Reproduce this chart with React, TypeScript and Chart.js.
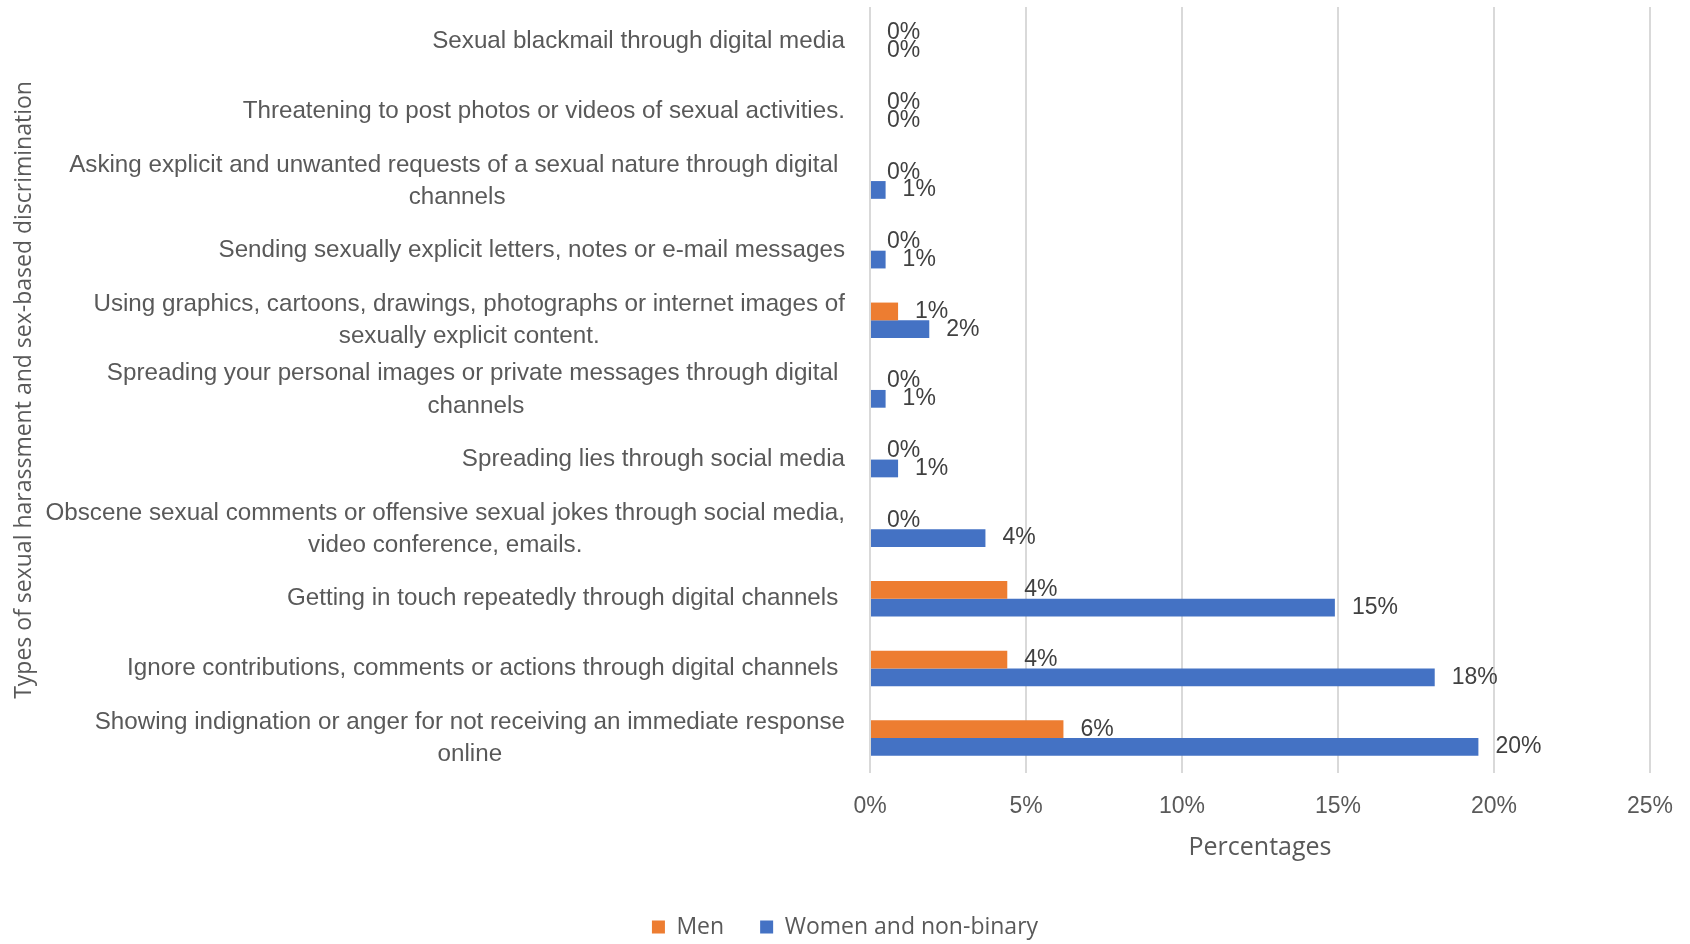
import React, { useEffect, useRef } from "react";
import { Chart, registerables } from "chart.js";

Chart.register(...registerables);

// ---- Data ----
const categories: string[][] = [
  ["Sexual blackmail through digital media"],
  ["Threatening to post photos or videos of sexual activities."],
  ["Asking explicit and unwanted requests of a sexual nature through digital ", "channels"],
  ["Sending sexually explicit letters, notes or e-mail messages"],
  ["Using graphics, cartoons, drawings, photographs or internet images of", "sexually explicit content."],
  ["Spreading your personal images or private messages through digital ", "channels"],
  ["Spreading lies through social media"],
  ["Obscene sexual comments or offensive sexual jokes through social media,", "video conference, emails."],
  ["Getting in touch repeatedly through digital channels "],
  ["Ignore contributions, comments or actions through digital channels "],
  ["Showing indignation or anger for not receiving an immediate response", "online"],
];

const seriesNames = ["Men", "Women and non-binary"];
const menValues = [0, 0, 0, 0, 0.9, 0, 0, 0, 4.4, 4.4, 6.2];
const womenValues = [0, 0, 0.5, 0.5, 1.9, 0.5, 0.9, 3.7, 14.9, 18.1, 19.5];

const xMin = 0;
const xMax = 25;
const xStep = 5;

const yAxisTitle = "Types of sexual harassment and sex-based discrimination";
const xAxisTitle = "Percentages";

const MEN_COLOR = "#ED7D31";
const WOMEN_COLOR = "#4472C4";
const TEXT_COLOR = "#595959";
const LABEL_COLOR = "#404040";
const GRID_COLOR = "#D9D9D9";
const SANS = '"Liberation Sans", Arial, sans-serif';
const OPEN = '"Open Sans", "Liberation Sans", sans-serif';

const categoryLabelPlugin = {
  id: "categoryLabels",
  afterDraw(chart: any) {
    const ctx = chart.ctx;
    const yScale = chart.scales.y;
    const area = chart.chartArea;
    ctx.save();
    ctx.font = `24.2px ${SANS}`;
    ctx.fillStyle = TEXT_COLOR;
    ctx.textBaseline = "middle";
    ctx.textAlign = "center";
    const right = area.left - 25;
    const lh = 32.3;
    categories.forEach((lines, i) => {
      const cy = yScale.getPixelForValue(i);
      const w = Math.max(...lines.map((l) => ctx.measureText(l).width));
      const cx = right - w / 2;
      lines.forEach((l, j) => {
        ctx.fillText(l, cx, cy + (j - (lines.length - 1) / 2) * lh);
      });
    });
    // rotated y-axis title
    ctx.font = `23px ${OPEN}`;
    ctx.translate(24, (area.top + area.bottom) / 2);
    ctx.rotate(-Math.PI / 2);
    ctx.textAlign = "center";
    ctx.fillText(yAxisTitle, 0, 0);
    ctx.restore();
  },
};

const dataLabelPlugin = {
  id: "dataLabels",
  afterDatasetsDraw(chart: any) {
    const ctx = chart.ctx;
    ctx.save();
    ctx.font = `23px ${SANS}`;
    ctx.fillStyle = LABEL_COLOR;
    ctx.textBaseline = "middle";
    ctx.textAlign = "left";
    chart.data.datasets.forEach((ds: any, di: number) => {
      const meta = chart.getDatasetMeta(di);
      meta.data.forEach((bar: any, i: number) => {
        const v = ds.data[i];
        ctx.fillText(`${Math.round(v)}%`, bar.x + 17, bar.y);
      });
    });
    ctx.restore();
  },
};

export default function App() {
  const canvasRef = useRef<HTMLCanvasElement | null>(null);

  useEffect(() => {
    if (!canvasRef.current) return;
    const chart = new Chart(canvasRef.current, {
      type: "bar",
      data: {
        labels: categories,
        datasets: [
          {
            label: seriesNames[0],
            data: menValues,
            backgroundColor: MEN_COLOR,
            barPercentage: 1,
            categoryPercentage: 0.51,
          },
          {
            label: seriesNames[1],
            data: womenValues,
            backgroundColor: WOMEN_COLOR,
            barPercentage: 1,
            categoryPercentage: 0.51,
          },
        ],
      },
      options: {
        indexAxis: "y",
        animation: false,
        responsive: true,
        maintainAspectRatio: false,
        layout: { padding: { top: 7, right: 40, bottom: -4.5, left: 40 } },
        plugins: {
          legend: {
            position: "bottom",
            labels: {
              boxWidth: 13,
              boxHeight: 13,
              padding: 36,
              color: TEXT_COLOR,
              font: { family: OPEN, size: 23 },
            },
          },
          tooltip: { enabled: false },
        },
        scales: {
          x: {
            min: xMin,
            max: xMax,
            ticks: {
              stepSize: xStep,
              padding: 3,
              color: TEXT_COLOR,
              font: { family: SANS, size: 23 },
              callback: (v: any) => `${v}%`,
            },
            grid: {
              color: GRID_COLOR,
              lineWidth: 2,
              drawTicks: true,
              tickLength: 17,
              tickColor: "rgba(0,0,0,0)",
            },
            border: { display: false },
            title: {
              display: true,
              text: xAxisTitle,
              color: TEXT_COLOR,
              font: { family: OPEN, size: 25 },
              padding: { top: 9, bottom: 17 },
            },
          },
          y: {
            ticks: { display: false },
            grid: { display: false },
            border: { display: false },
            afterFit: (scale: any) => {
              scale.width = 830;
            },
          },
        },
      },
      plugins: [categoryLabelPlugin, dataLabelPlugin],
    });
    return () => chart.destroy();
  }, []);

  return (
    <div
      style={{
        position: "fixed",
        left: 0,
        top: 0,
        width: 1690,
        height: 944,
        background: "#ffffff",
      }}
    >
      <canvas ref={canvasRef} />
    </div>
  );
}
